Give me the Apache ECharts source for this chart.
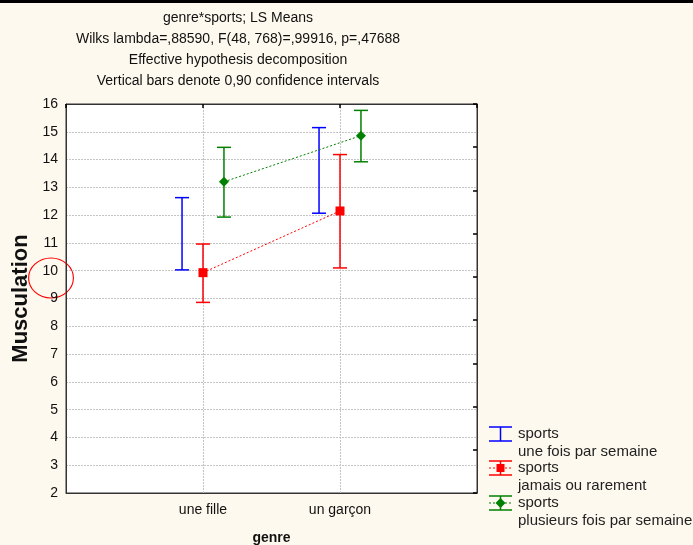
<!DOCTYPE html>
<html>
<head>
<meta charset="utf-8">
<style>
  html, body { margin: 0; padding: 0; background: #fdf9ee; }
  #chart { width: 693px; height: 545px; }
</style>
<script src="https://cdn.jsdelivr.net/npm/echarts@6/dist/echarts.min.js"></script>
</head>
<body>
<div id="chart"></div>
<script>
  // genre categories sit at x = 1 and 2 on a 0..3 value axis
  var genres = ['une fille', 'un garçon']
  var offset = 0.153 // side shift of the blue / green bars

  // sports: une fois par semaine (error bar only)
  var onceLow = [10.03, 12.07]
  var onceHigh = [12.63, 15.15]
  // sports: jamais ou rarement
  var neverMean = [9.93, 12.15]
  var neverLow = [8.86, 10.1]
  var neverHigh = [10.96, 14.18]
  // sports: plusieurs fois par semaine
  var manyMean = [13.2, 14.86]
  var manyLow = [11.93, 13.92]
  var manyHigh = [14.44, 15.77]

  var titleLines = [
    'genre*sports; LS Means',
    'Wilks lambda=,88590, F(48, 768)=,99916, p=,47688',
    'Effective hypothesis decomposition',
    'Vertical bars denote 0,90 confidence intervals'
  ]

  var BLUE = '#0000ff'
  var RED = '#ff0000'
  var GREEN = '#008000'
  var FONT = 'Liberation Sans, Arial, sans-serif'

  function bars (low, high, shift) {
    return low.map(function (v, i) { return [i + 1 + shift, v, high[i]] })
  }

  function errorBar (color) {
    return function (params, api) {
      var top = api.coord([api.value(0), api.value(2)])
      var bot = api.coord([api.value(0), api.value(1)])
      var w = 7
      var st = { stroke: color, lineWidth: 1.5 }
      return {
        type: 'group',
        children: [
          { type: 'line', shape: { x1: top[0], y1: top[1], x2: bot[0], y2: bot[1] }, style: st },
          { type: 'line', shape: { x1: top[0] - w, y1: top[1], x2: top[0] + w, y2: top[1] }, style: st },
          { type: 'line', shape: { x1: bot[0] - w, y1: bot[1], x2: bot[0] + w, y2: bot[1] }, style: st }
        ]
      }
    }
  }

  function legendItem (y, color, marker, l1, l2) {
    var st = { stroke: color, lineWidth: 1.5 }
    var kids = [
      { type: 'line', shape: { x1: 489, y1: y - 7, x2: 512, y2: y - 7 }, style: st },
      { type: 'line', shape: { x1: 489, y1: y + 7, x2: 512, y2: y + 7 }, style: st },
      { type: 'line', shape: { x1: 500.5, y1: y - 7, x2: 500.5, y2: y + 7 }, style: st }
    ]
    if (marker) {
      kids.push({ type: 'line', shape: { x1: 489, y1: y, x2: 512, y2: y }, style: { stroke: color, lineWidth: 1, lineDash: [2, 2] } })
      if (marker === 'rect') {
        kids.push({ type: 'rect', shape: { x: 496.5, y: y - 4, width: 8, height: 8 }, style: { fill: color } })
      } else {
        kids.push({ type: 'polygon', shape: { points: [[500.5, y - 5], [505.5, y], [500.5, y + 5], [495.5, y]] }, style: { fill: color } })
      }
    }
    kids.push({ type: 'text', x: 518, y: y, style: { text: l1, fill: '#222', font: '15px ' + FONT, verticalAlign: 'middle' } })
    kids.push({ type: 'text', x: 518, y: y + 17.5, style: { text: l2, fill: '#222', font: '15px ' + FONT, verticalAlign: 'middle' } })
    return { type: 'group', children: kids }
  }

  var gridLine = { show: true, lineStyle: { color: '#c4c4c4', type: [2, 1] } }

  var chart = echarts.init(document.getElementById('chart'))
  chart.setOption({
    backgroundColor: '#fdf9ee',
    animation: false,
    grid: {
      left: 66,
      right: 216,
      top: 104,
      bottom: 52,
      outerBoundsMode: 'none',
      containLabel: false,
      show: true,
      backgroundColor: '#ffffff',
      borderColor: '#333',
      borderWidth: 1
    },
    graphic: [
      { type: 'rect', shape: { x: 0, y: 0, width: 693, height: 3 }, style: { fill: '#000' } },
      {
        type: 'group',
        children: titleLines.map(function (t, i) {
          return { type: 'text', x: 238, y: 18 + i * 21, style: { text: t, fill: '#111', font: '14px ' + FONT, align: 'center', verticalAlign: 'middle' } }
        })
      },
      { type: 'circle', x: 51, y: 278, scaleX: 1.12, shape: { cx: 0, cy: 0, r: 20 }, style: { fill: 'none', stroke: '#ff0000', lineWidth: 1 } },
      legendItem(434, BLUE, null, 'sports', 'une fois par semaine'),
      legendItem(468, RED, 'rect', 'sports', 'jamais ou rarement'),
      legendItem(503, GREEN, 'diamond', 'sports', 'plusieurs fois par semaine')
    ],
    xAxis: [
      {
        type: 'value',
        min: 0,
        max: 3,
        interval: 1,
        name: 'genre',
        nameLocation: 'middle',
        nameGap: 38,
        nameTextStyle: { fontWeight: 'bold', fontSize: 14, color: '#111', fontFamily: FONT },
        axisLine: { show: true, onZero: false, lineStyle: { color: '#333' } },
        axisTick: { show: false },
        axisLabel: {
          margin: 10,
          fontSize: 14,
          color: '#111',
          fontFamily: FONT,
          formatter: function (v) { return genres[v - 1] || '' }
        },
        splitLine: gridLine
      },
      {
        type: 'value',
        position: 'top',
        min: 0,
        max: 3,
        interval: 1,
        axisLine: { show: true, onZero: false, lineStyle: { color: '#333' } },
        axisTick: { show: true, inside: true, length: 4, lineStyle: { color: '#000', width: 1.5 } },
        axisLabel: { show: false },
        splitLine: { show: false }
      }
    ],
    yAxis: [
      {
        type: 'value',
        min: 2,
        max: 16,
        interval: 1,
        name: 'Musculation',
        nameLocation: 'middle',
        nameGap: 33,
        nameTextStyle: { fontWeight: 'bold', fontSize: 22, color: '#111', fontFamily: FONT },
        axisLine: { show: true, onZero: false, lineStyle: { color: '#333' } },
        axisTick: { show: false },
        axisLabel: { margin: 8, fontSize: 14, color: '#111', fontFamily: FONT },
        splitLine: gridLine
      },
      {
        type: 'value',
        position: 'right',
        min: 0,
        max: 9,
        interval: 1,
        axisLine: { show: true, onZero: false, lineStyle: { color: '#333' } },
        axisTick: { show: true, inside: true, length: 4, lineStyle: { color: '#000', width: 1.5 } },
        axisLabel: { show: false },
        splitLine: { show: false }
      }
    ],
    series: [
      {
        type: 'custom',
        renderItem: errorBar(BLUE),
        data: bars(onceLow, onceHigh, -offset),
        encode: { x: 0, y: [1, 2] },
        z: 3
      },
      {
        type: 'custom',
        renderItem: errorBar(RED),
        data: bars(neverLow, neverHigh, 0),
        encode: { x: 0, y: [1, 2] },
        z: 3
      },
      {
        type: 'custom',
        renderItem: errorBar(GREEN),
        data: bars(manyLow, manyHigh, offset),
        encode: { x: 0, y: [1, 2] },
        z: 3
      },
      {
        type: 'line',
        data: neverMean.map(function (v, i) { return [i + 1, v] }),
        symbol: 'rect',
        symbolSize: 9,
        itemStyle: { color: RED },
        lineStyle: { color: RED, width: 1, type: [2, 2] },
        z: 4
      },
      {
        type: 'line',
        data: manyMean.map(function (v, i) { return [i + 1 + offset, v] }),
        symbol: 'diamond',
        symbolSize: 10,
        itemStyle: { color: GREEN },
        lineStyle: { color: GREEN, width: 1, type: [2, 2] },
        z: 4
      }
    ]
  })
</script>
</body>
</html>
